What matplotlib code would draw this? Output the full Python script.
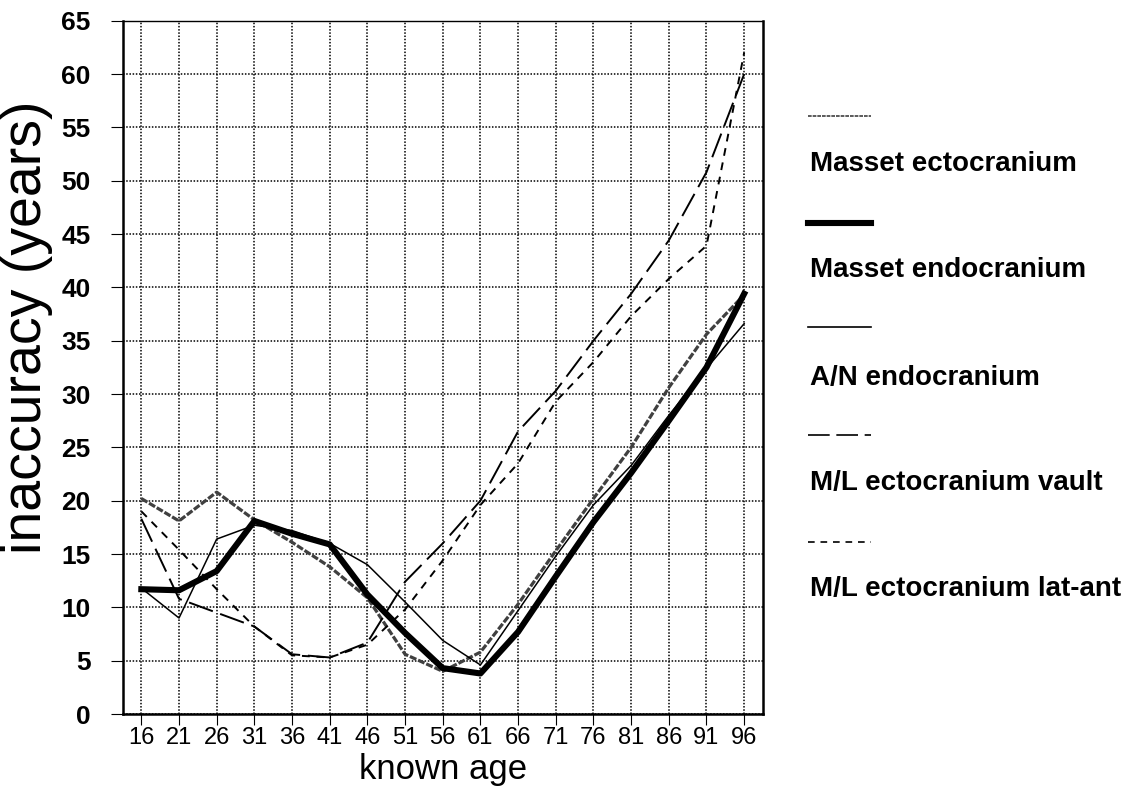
import numpy as np
import matplotlib
matplotlib.use("Agg")
import matplotlib.pyplot as plt
from matplotlib.lines import Line2D
from matplotlib import font_manager

# known age categories (years)
ages = [16, 21, 26, 31, 36, 41, 46, 51, 56, 61, 66, 71, 76, 81, 86, 91, 96]

# inaccuracy per method (years)
masset_ecto = [20.2, 18.1, 20.8, 18.2, 16.1, 13.8, 10.9, 5.6, 4.0, 5.8, 10.3, 15.3, 20.2, 25.0, 30.6, 35.6, 39.3]
masset_endo = [11.7, 11.6, 13.4, 18.1, 16.9, 15.9, 11.2, 7.6, 4.3, 3.8, 7.7, 12.9, 18.0, 22.6, 27.5, 32.5, 39.4]
an_endo = [11.8, 9.0, 16.4, 17.7, 17.2, 16.0, 14.0, 10.5, 6.9, 4.6, 9.7, 14.8, 19.6, 23.3, 28.0, 32.4, 36.6]
ml_vault = [18.3, 10.8, 9.5, 8.2, 5.6, 5.3, 6.7, 12.4, 16.0, 20.0, 26.5, 30.3, 35.0, 39.4, 44.4, 50.8, 60.0]
ml_latant = [19.0, 15.4, 11.7, 8.2, 5.5, 5.3, 6.5, 9.8, 14.4, 19.6, 23.5, 29.3, 33.0, 37.3, 40.8, 43.9, 62.0]

labels = ["Masset ectocranium", "Masset endocranium", "A/N endocranium",
          "M/L ectocranium vault", "M/L ectocranium lat-ant"]

# pick a narrow face for the axis text if one is installed
names = {f.name for f in font_manager.fontManager.ttflist}
narrow = "Liberation Sans Narrow" if "Liberation Sans Narrow" in names else "Liberation Sans"
plt.rcParams["font.family"] = ["Liberation Sans", "DejaVu Sans"]

W, H = 1144, 790
fig = plt.figure(figsize=(W / 100, H / 100), dpi=100)
left, right, top, bottom = 122.5, 763, 20.7, 714
ax = fig.add_axes([left / W, 1 - bottom / H, (right - left) / W, (bottom - top) / H])

x = np.arange(len(ages))
styles = [
    dict(color="0.25", lw=2.3, ls=(0, (2.2, 0.6))),
    dict(color="black", lw=4.4, ls="-", solid_joinstyle="round"),
    dict(color="black", lw=1.1, ls="-"),
    dict(color="black", lw=1.4, ls=(0, (13, 4))),
    dict(color="black", lw=1.4, ls=(0, (4, 3.5))),
]
series = [masset_ecto, masset_endo, an_endo, ml_vault, ml_latant]
for vals, st in zip(series, styles):
    ax.plot(x, vals, zorder=3, **st)

ax.set_xlim(-0.5, len(ages) - 0.5)
ax.set_ylim(0, 65)
ax.set_xticks(x)
ax.set_xticklabels([str(a) for a in ages], family=narrow, fontsize=17)
ax.set_yticks(np.arange(0, 66, 5))
ax.tick_params(axis="y", labelsize=19, length=9, width=0.8, pad=14, direction="out")
for t in ax.get_yticklabels():
    t.set_fontweight("bold")
ax.tick_params(axis="x", length=8, width=0.8, pad=1.5, direction="out")

ax.grid(True, color="black", linestyle=(0, (1, 1.1)), linewidth=1.1, zorder=1)
ax.set_axisbelow(True)
for side in ["left", "bottom", "right"]:
    ax.spines[side].set_linewidth(1.8)
ax.spines["top"].set_linewidth(1.0)

ax.set_xlabel("known age", family=narrow, fontsize=25, va="center")
ax.xaxis.set_label_coords(0.5, -(770 - bottom) / (bottom - top))
ax.set_ylabel("inaccuracy (years)", fontsize=40, va="center")
ax.yaxis.set_label_coords((27 - left) / (right - left), (bottom - 327) / (bottom - top))

# legend: sample line above each label, to the right of the plot
handle_y = [115.8, 223.4, 327.3, 434.8, 542.4]
text_y = [164.2, 270.0, 377.5, 483.2, 589.0]
for lab, st, hy, ty in zip(labels, styles, handle_y, text_y):
    hst = dict(st)
    if hst["lw"] < 3:
        hst["lw"] = 1.2
    fig.add_artist(Line2D([808 / W, 871 / W], [1 - hy / H, 1 - hy / H],
                          transform=fig.transFigure, **hst))
    fig.text(810 / W, 1 - ty / H, lab, fontsize=20, fontweight="bold",
             ha="left", va="center")

fig.savefig("out.png", dpi=100)
